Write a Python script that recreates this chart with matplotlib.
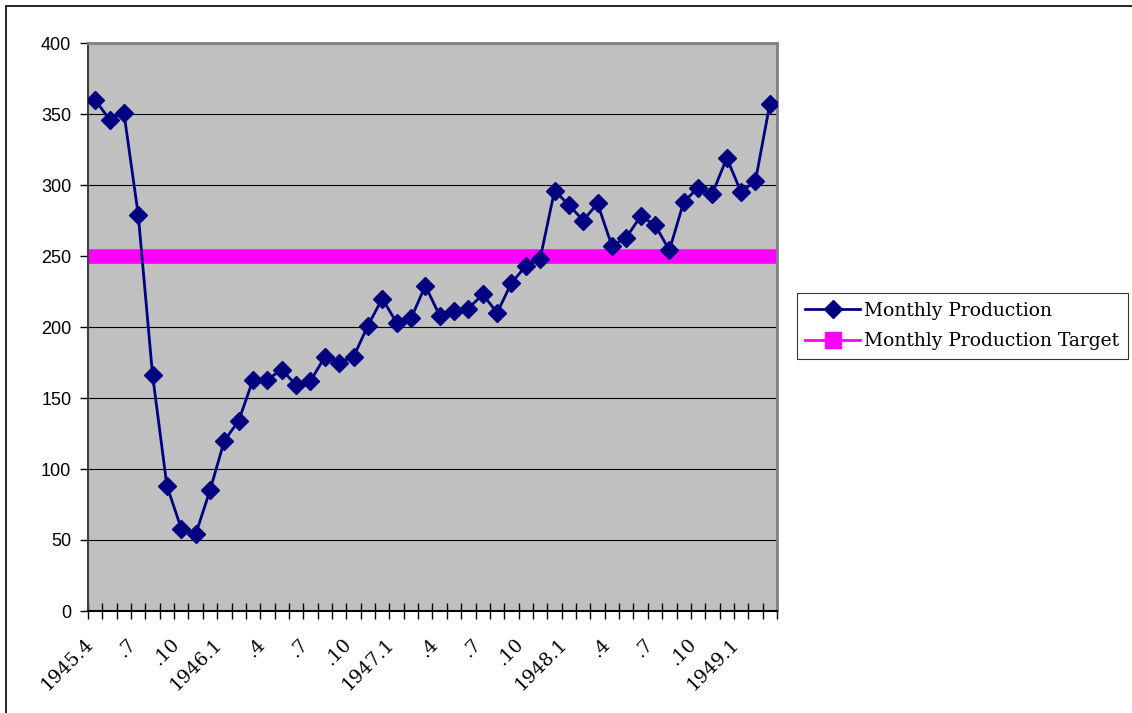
import matplotlib
matplotlib.use("Agg")
import matplotlib.pyplot as plt
from matplotlib.patches import Rectangle
from matplotlib.transforms import ScaledTranslation, blended_transform_factory
import numpy as np

# monthly production, April 1945 through March 1949
production = [360, 346, 351, 279, 166, 88, 58, 54, 85, 120, 134, 163,
              163, 170, 159, 162, 179, 175, 179, 201, 220, 203, 206, 229,
              208, 211, 213, 223, 210, 231, 243, 248, 296, 286, 275, 287,
              257, 263, 278, 272, 254, 288, 298, 294, 319, 295, 303, 357]
target = 250
tick_labels = ["1945.4", ".7", ".10", "1946.1", ".4", ".7", ".10", "1947.1",
               ".4", ".7", ".10", "1948.1", ".4", ".7", ".10", "1949.1"]

W, H = 1132, 713
fig = plt.figure(figsize=(W / 100, H / 100), dpi=100)
fig.patch.set_facecolor("white")

# outer chart frame
fig.patches.append(Rectangle((6 / W, -0.01), 1.05, (H - 6) / H + 0.01,
                             transform=fig.transFigure, fill=False,
                             edgecolor="black", linewidth=1.2))

ax = fig.add_axes([88 / W, (H - 611) / H, 689 / W, 568 / H])
ax.set_facecolor("#C0C0C0")

n = len(production)
x = np.arange(n)

ax.set_xlim(-0.5, n - 0.5)
ax.set_ylim(0, 400)

for v in range(50, 400, 50):
    ax.axhline(v, color="black", linewidth=0.8, zorder=1)

# target band runs across the whole plot area
ax.hlines(target, -0.5, n - 0.5, color="#FF00FF", linewidth=10.5, zorder=2)
ax.plot(x, production, color="#000080", linewidth=2,
        marker="D", markersize=9, zorder=3)

# legend entries use thin lines with markers
h1 = plt.Line2D([], [], color="#000080", linewidth=2, marker="D", markersize=9)
h2 = plt.Line2D([], [], color="#FF00FF", linewidth=2, marker="s", markersize=11)
leg = fig.legend([h1, h2], ["Monthly Production", "Monthly Production Target"],
                 loc="center left", bbox_to_anchor=(797 / W, 1 - 326 / H),
                 frameon=True, fancybox=False, edgecolor="black",
                 prop={"family": "DejaVu Serif", "size": 13.5},
                 handlelength=2.9, borderpad=0.45, labelspacing=0.65,
                 handletextpad=0.25, borderaxespad=0)
leg.get_frame().set_linewidth(0.8)

ax.set_yticks(np.arange(0, 401, 50))
ax.tick_params(axis="y", direction="out", length=6, width=1, colors="black",
               labelsize=13, pad=6)
for t in ax.get_yticklabels():
    t.set_family("Liberation Sans")

# category labels every third month, drawn as rotated text below the axis
ax.set_xticks([])
ax.set_xticks(np.arange(-0.5, n, 1), minor=True)
ax.tick_params(axis="x", which="minor", direction="inout", length=12,
               width=1, colors="black")
base = blended_transform_factory(ax.transData, ax.transAxes)
shift = ScaledTranslation(-11 / 100, -24 / 100, fig.dpi_scale_trans)
for xi, lab in zip(x[::3], tick_labels):
    ax.text(xi, 0, lab, transform=base + shift, rotation=45,
            ha="right", va="top", rotation_mode="anchor",
            family="DejaVu Serif", fontsize=13.5)

ax.spines["top"].set_color("#808080")
ax.spines["right"].set_color("#808080")
ax.spines["top"].set_linewidth(2)
ax.spines["right"].set_linewidth(2)
ax.spines["left"].set_color("#404040")
ax.spines["left"].set_linewidth(1.5)
ax.spines["bottom"].set_color("black")
ax.spines["bottom"].set_linewidth(1.5)

fig.savefig("out.png", dpi=100)
